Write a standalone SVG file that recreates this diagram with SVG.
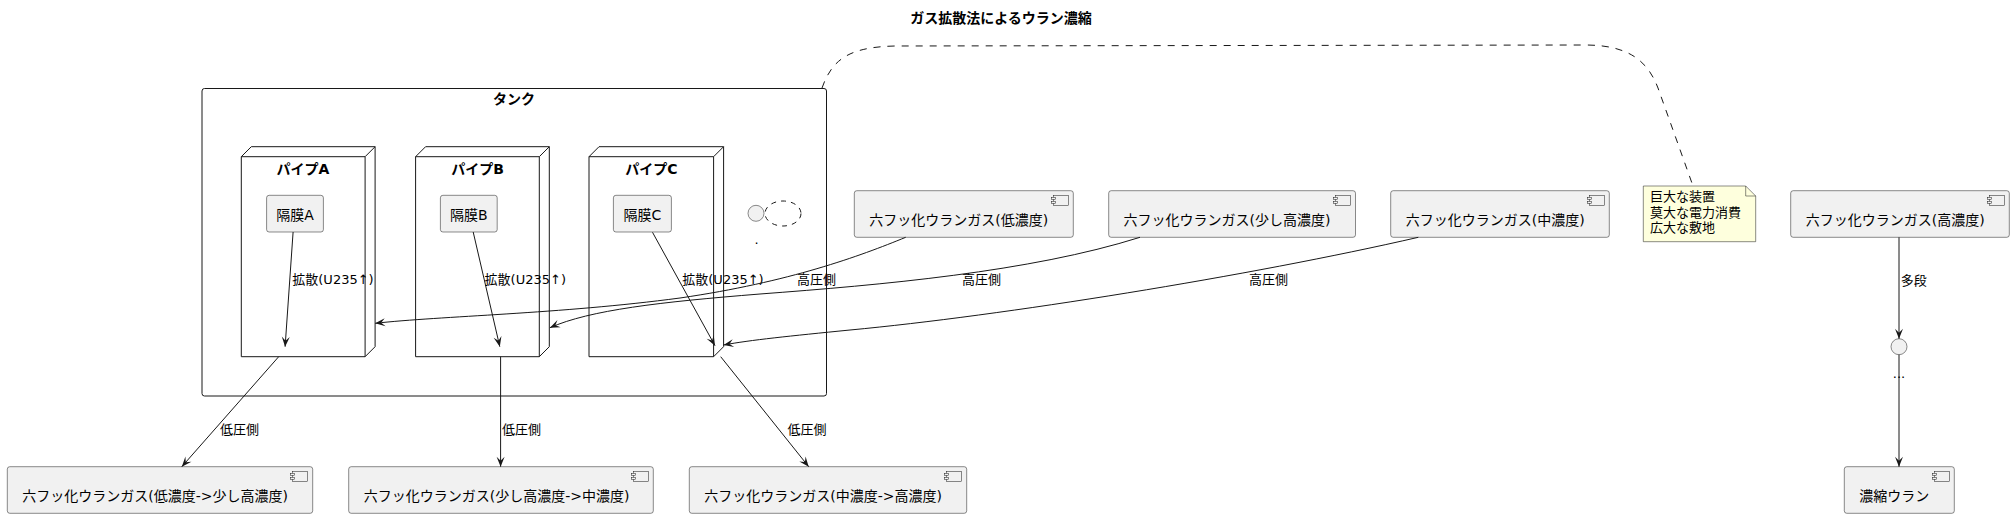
<svg xmlns="http://www.w3.org/2000/svg" width="2014" height="518" viewBox="0 0 2014 518">
<defs>
<style>
text{font-family:"DejaVu Sans","Noto Sans CJK JP",sans-serif;fill:#000}
.t14{font-size:14px}
.t13{font-size:13px}
.b{font-weight:bold}
.mid{text-anchor:middle}
.comp{fill:#F1F1F1;stroke:#181818;stroke-width:0.5}
.frame{fill:#FFFFFF;stroke:#181818;stroke-width:1}
.icon{fill:#F1F1F1;stroke:#181818;stroke-width:0.5}
.edge{fill:none;stroke:#181818;stroke-width:1}
.dash{fill:none;stroke:#181818;stroke-width:1;stroke-dasharray:7,7}
</style>
<marker id="ah" markerWidth="12" markerHeight="10" viewBox="-11 -5 12 10" refX="0" refY="0" orient="auto" markerUnits="userSpaceOnUse">
<path d="M0,0 L-10,-4 L-6,0 L-10,4 Z" fill="#181818"/>
</marker>
</defs>
<rect width="2014" height="518" fill="#FFFFFF"/>
<text x="1001" y="23" class="t14 b mid">ガス拡散法によるウラン濃縮</text>

<g id="tank">
<rect x="202" y="88.5" width="624.5" height="307.5" rx="2.5" class="frame"/>
<text x="514" y="104" class="t14 b mid">タンク</text>
</g>

<g id="pipeA">
<path d="M241.3,156.7 L251.3,146.7 L375.1,146.7 L375.1,346.7 L365.1,356.7 L241.3,356.7 Z" class="frame"/>
<path d="M241.3,156.7 L365.1,156.7 L375.1,146.7 M365.1,156.7 L365.1,356.7" class="edge"/>
<text x="303" y="174" class="t14 b mid">パイプA</text>
</g>
<g id="pipeB">
<path d="M415.6,156.7 L425.6,146.7 L549.3,146.7 L549.3,346.7 L539.3,356.7 L415.6,356.7 Z" class="frame"/>
<path d="M415.6,156.7 L539.3,156.7 L549.3,146.7 M539.3,156.7 L539.3,356.7" class="edge"/>
<text x="477.5" y="174" class="t14 b mid">パイプB</text>
</g>
<g id="pipeC">
<path d="M589,156.7 L599,146.7 L723.6,146.7 L723.6,346.7 L713.6,356.7 L589,356.7 Z" class="frame"/>
<path d="M589,156.7 L713.6,156.7 L723.6,146.7 M713.6,156.7 L713.6,356.7" class="edge"/>
<text x="651.3" y="174" class="t14 b mid">パイプC</text>
</g>

<g id="membraneA">
<rect x="266.6" y="195.3" width="56.8" height="36.7" rx="2.5" class="comp"/>
<text x="295" y="220" class="t14 mid">隔膜A</text>
</g>
<g id="membraneB">
<rect x="440.4" y="195.3" width="56.8" height="36.7" rx="2.5" class="comp"/>
<text x="468.8" y="220" class="t14 mid">隔膜B</text>
</g>
<g id="membraneC">
<rect x="613.4" y="195.3" width="58" height="36.7" rx="2.5" class="comp"/>
<text x="642.4" y="220" class="t14 mid">隔膜C</text>
</g>

<g id="iface1">
<circle cx="756" cy="213.3" r="8" class="comp"/>
<ellipse cx="783" cy="213.5" rx="18" ry="12.5" class="dash" style="stroke-dasharray:5,5"/>
<text x="756.5" y="244" class="t13 mid">.</text>
</g>

<g id="gasLow">
<rect x="854.3" y="190.7" width="219" height="46.6" rx="2.5" class="comp"/>
<rect x="1053.3" y="195.3" width="15" height="10" class="icon"/>
<rect x="1051.3" y="197.3" width="4" height="2" class="icon"/>
<rect x="1051.3" y="201.3" width="4" height="2" class="icon"/>
<text x="869.3" y="225" class="t14">六フッ化ウランガス(低濃度)</text>
</g>
<g id="gasSlight">
<rect x="1108.7" y="190.7" width="246.8" height="46.6" rx="2.5" class="comp"/>
<rect x="1335.5" y="195.3" width="15" height="10" class="icon"/>
<rect x="1333.5" y="197.3" width="4" height="2" class="icon"/>
<rect x="1333.5" y="201.3" width="4" height="2" class="icon"/>
<text x="1123.5" y="225" class="t14">六フッ化ウランガス(少し高濃度)</text>
</g>
<g id="gasMid">
<rect x="1390.7" y="190.7" width="218.6" height="46.6" rx="2.5" class="comp"/>
<rect x="1589.3" y="195.3" width="15" height="10" class="icon"/>
<rect x="1587.3" y="197.3" width="4" height="2" class="icon"/>
<rect x="1587.3" y="201.3" width="4" height="2" class="icon"/>
<text x="1405.7" y="225" class="t14">六フッ化ウランガス(中濃度)</text>
</g>
<g id="note">
<path d="M1643.3,186 L1643.3,241.7 L1755.7,241.7 L1755.7,196 L1745.7,186 Z" fill="#FEFFDD" stroke="#181818" stroke-width="0.5"/>
<path d="M1745.7,186 L1745.7,196 L1755.7,196" fill="none" stroke="#181818" stroke-width="0.5"/>
<text x="1650" y="201" class="t13">巨大な装置</text>
<text x="1650" y="216.5" class="t13">莫大な電力消費</text>
<text x="1650" y="232" class="t13">広大な敷地</text>
</g>
<g id="gasHigh">
<rect x="1790.7" y="190.7" width="218.6" height="46.6" rx="2.5" class="comp"/>
<rect x="1989.3" y="195.3" width="15" height="10" class="icon"/>
<rect x="1987.3" y="197.3" width="4" height="2" class="icon"/>
<rect x="1987.3" y="201.3" width="4" height="2" class="icon"/>
<text x="1805.7" y="225" class="t14">六フッ化ウランガス(高濃度)</text>
</g>
<g id="iface2">
<circle cx="1899" cy="346.7" r="8" class="comp"/>
</g>
<g id="enriched">
<rect x="1844.3" y="466.7" width="110" height="46.6" rx="2.5" class="comp"/>
<rect x="1934.3" y="471.3" width="15" height="10" class="icon"/>
<rect x="1932.3" y="473.3" width="4" height="2" class="icon"/>
<rect x="1932.3" y="477.3" width="4" height="2" class="icon"/>
<text x="1859.3" y="501" class="t14">濃縮ウラン</text>
</g>

<g id="outLow">
<rect x="7.3" y="466.7" width="305.4" height="46.6" rx="2.5" class="comp"/>
<rect x="292.7" y="471.3" width="15" height="10" class="icon"/>
<rect x="290.7" y="473.3" width="4" height="2" class="icon"/>
<rect x="290.7" y="477.3" width="4" height="2" class="icon"/>
<text x="22.3" y="501" class="t14">六フッ化ウランガス(低濃度-&gt;少し高濃度)</text>
</g>
<g id="outSlight">
<rect x="348.7" y="466.7" width="304.6" height="46.6" rx="2.5" class="comp"/>
<rect x="633.3" y="471.3" width="15" height="10" class="icon"/>
<rect x="631.3" y="473.3" width="4" height="2" class="icon"/>
<rect x="631.3" y="477.3" width="4" height="2" class="icon"/>
<text x="363.7" y="501" class="t14">六フッ化ウランガス(少し高濃度-&gt;中濃度)</text>
</g>
<g id="outMid">
<rect x="689.3" y="466.7" width="277.4" height="46.6" rx="2.5" class="comp"/>
<rect x="946.7" y="471.3" width="15" height="10" class="icon"/>
<rect x="944.7" y="473.3" width="4" height="2" class="icon"/>
<rect x="944.7" y="477.3" width="4" height="2" class="icon"/>
<text x="704.3" y="501" class="t14">六フッ化ウランガス(中濃度-&gt;高濃度)</text>
</g>

<g id="connectors">
<path d="M293.1,232 L285.1,346.7" class="edge" marker-end="url(#ah)"/>
<text x="292.3" y="284" class="t13">拡散(U235↑)</text>
<path d="M473.2,232 L499.8,346.7" class="edge" marker-end="url(#ah)"/>
<text x="484.6" y="284" class="t13">拡散(U235↑)</text>
<path d="M652.5,232.3 L715,345.7" class="edge" marker-end="url(#ah)"/>
<text x="682.3" y="284" class="t13">拡散(U235↑)</text>

<path d="M905.7,237.3 C860,256 790,282 680,298 C560,314 440,316 375.2,323.3" class="edge" marker-end="url(#ah)"/>
<text x="797" y="284" class="t13">高圧側</text>
<path d="M1140,237.3 C1030,272 880,285 760,294 C660,302 590,310 549.9,327.7" class="edge" marker-end="url(#ah)"/>
<text x="962" y="284" class="t13">高圧側</text>
<path d="M1418.3,237.3 C1250,276 1000,316 850,330 C790,336 750,340 723.6,345" class="edge" marker-end="url(#ah)"/>
<text x="1249" y="284" class="t13">高圧側</text>

<path d="M278.7,356.7 L181.8,466.7" class="edge" marker-end="url(#ah)"/>
<text x="220" y="434" class="t13">低圧側</text>
<path d="M500.6,356.7 L500.6,466.7" class="edge" marker-end="url(#ah)"/>
<text x="502" y="434" class="t13">低圧側</text>
<path d="M720.7,356.7 L808.7,466.7" class="edge" marker-end="url(#ah)"/>
<text x="787.6" y="434" class="t13">低圧側</text>

<path d="M1899,237.3 L1899,338.7" class="edge" marker-end="url(#ah)"/>
<text x="1900.7" y="285" class="t13">多段</text>
<path d="M1899,354.7 L1899,466.7" class="edge" marker-end="url(#ah)"/>
<text x="1899" y="378" class="t13 mid">...</text>

<path d="M822,88 C832,60 848,47 895,46 L1585,45 C1630,45 1648,62 1658,88 L1693,186" class="dash"/>
</g>
</svg>
